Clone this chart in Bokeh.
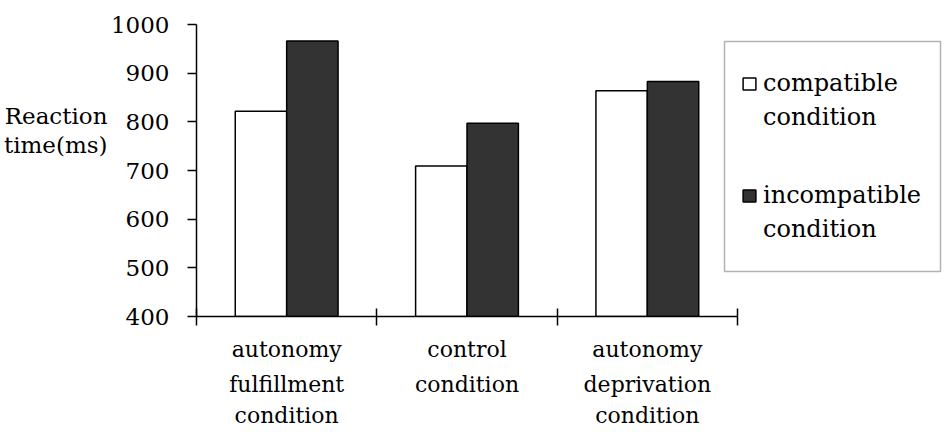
import numpy as np
from bokeh.plotting import figure
from bokeh.models import (Range1d, FixedTicker, ColumnDataSource, Legend,
                          LegendItem, LinearAxis, BoxAnnotation)
from bokeh.transform import dodge
from bokeh.embed import file_html
from bokeh.resources import INLINE

# ---- data ----
cat_line1 = ["autonomy", "control", "autonomy"]
cat_line2 = ["fulfillment", "condition", "deprivation"]
cat_line3 = ["condition", "", "condition"]
compatible = [822, 709, 864]
incompatible = [966, 797, 883]
series_names = ["compatible", "incompatible"]
series_suffix = "condition"
y_ticks = [400, 500, 600, 700, 800, 900, 1000]
y_label_lines = ["Reaction", "time(ms)"]
y_label_at = [811, 753]

FONT = "DejaVu Serif"
DARK = "#333333"

n = len(cat_line1)
centers = [i + 0.5 for i in range(n)]
bounds = [float(i) for i in range(n + 1)]
source = ColumnDataSource(dict(x=centers, compatible=compatible,
                               incompatible=incompatible))

FRAME_W = 748
CAT_W = 541 / 3.0
p = figure(frame_width=FRAME_W, frame_height=292,
           x_range=Range1d(0, FRAME_W / CAT_W),
           y_range=Range1d(y_ticks[0], y_ticks[-1]),
           output_backend="svg", toolbar_location=None,
           min_border_left=196, min_border_right=2, min_border_top=24,
           min_border_bottom=4)
p.outline_line_color = None
p.grid.visible = False
p.background_fill_color = "white"

bw = 0.285
r1 = p.vbar(x=dodge("x", -bw / 2, range=p.x_range), top="compatible",
            bottom=y_ticks[0], width=bw, source=source,
            fill_color="white", line_color="black", line_width=1.5)
r2 = p.vbar(x=dodge("x", bw / 2, range=p.x_range), top="incompatible",
            bottom=y_ticks[0], width=bw, source=source,
            fill_color=DARK, line_color="black", line_width=1.5)
# invisible renderer used only for glyph-less legend lines
r_blank = p.vbar(x="x", top="compatible", bottom=y_ticks[0], width=bw,
                 source=source, fill_alpha=0, line_alpha=0)

# y axis
ya = p.yaxis[0]
ya.ticker = FixedTicker(ticks=y_ticks)
ya.major_tick_in = 0
ya.major_tick_out = 9
ya.minor_tick_in = 0
ya.minor_tick_out = 0
ya.major_tick_line_width = 1.5
ya.axis_line_width = 1.5
ya.axis_line_color = "black"
ya.major_tick_line_color = "black"
ya.major_label_text_font = FONT
ya.major_label_text_font_size = "23px"
ya.major_label_text_color = "black"
ya.major_label_standoff = 18

# horizontal y-axis title, as a label-only axis further left
p.extra_y_ranges = {"lab": Range1d(y_ticks[0], y_ticks[-1])}
ya2 = LinearAxis(y_range_name="lab", ticker=FixedTicker(ticks=y_label_at),
                 major_label_overrides=dict(zip(y_label_at, y_label_lines)),
                 axis_line_color=None, major_tick_line_color=None,
                 minor_tick_line_color=None, major_tick_out=0,
                 major_tick_in=0, major_label_standoff=0,
                 major_label_text_font=FONT,
                 major_label_text_font_size="23px",
                 major_label_text_color="black")
p.add_layout(ya2, "left")

# x axis: ticks at category boundaries (minor), labels at centers (major)
xa = p.xaxis[0]
xa.bounds = (0, n)
xa.ticker = FixedTicker(ticks=centers, minor_ticks=bounds)
xa.major_tick_in = 0
xa.major_tick_out = 0
xa.minor_tick_in = 8
xa.minor_tick_out = 9
xa.minor_tick_line_width = 1.5
xa.minor_tick_line_color = "black"
xa.axis_line_width = 1.5
xa.axis_line_color = "black"
xa.major_label_overrides = dict(zip(centers, cat_line1))
xa.major_label_text_font = FONT
xa.major_label_text_font_size = "22px"
xa.major_label_text_color = "black"
xa.major_label_standoff = 11

for lines, so in ((cat_line2, 7), (cat_line3, 3)):
    ax = LinearAxis(ticker=FixedTicker(ticks=centers), bounds=(0, n),
                    major_label_overrides=dict(zip(centers, lines)),
                    axis_line_color=None, major_tick_line_color=None,
                    minor_tick_line_color=None, major_tick_out=0,
                    major_tick_in=0, major_label_standoff=so,
                    major_label_text_font=FONT,
                    major_label_text_font_size="22px",
                    major_label_text_color="black")
    p.add_layout(ax, "below")

# legend: border box + two borderless legends (one per series)
p.add_layout(BoxAnnotation(left=724, right=940, top=41, bottom=271,
                           left_units="canvas", right_units="canvas",
                           top_units="canvas", bottom_units="canvas",
                           fill_alpha=0, line_color="black", line_width=1.5,
                           level="overlay"))
for rend, name, loc in ((r1, series_names[0], (545, 185)),
                        (r2, series_names[1], (545, 73))):
    lg = Legend(items=[LegendItem(label=name, renderers=[rend]),
                       LegendItem(label=series_suffix, renderers=[r_blank])],
                location=loc)
    lg.label_text_font = FONT
    lg.label_text_font_size = "24px"
    lg.label_text_color = "black"
    lg.glyph_width = 16
    lg.glyph_height = 15
    lg.label_standoff = 6
    lg.spacing = 6
    lg.padding = 0
    lg.margin = 0
    lg.border_line_color = None
    lg.background_fill_alpha = 0
    p.add_layout(lg)

open("out.html", "w").write(file_html(p, INLINE))
